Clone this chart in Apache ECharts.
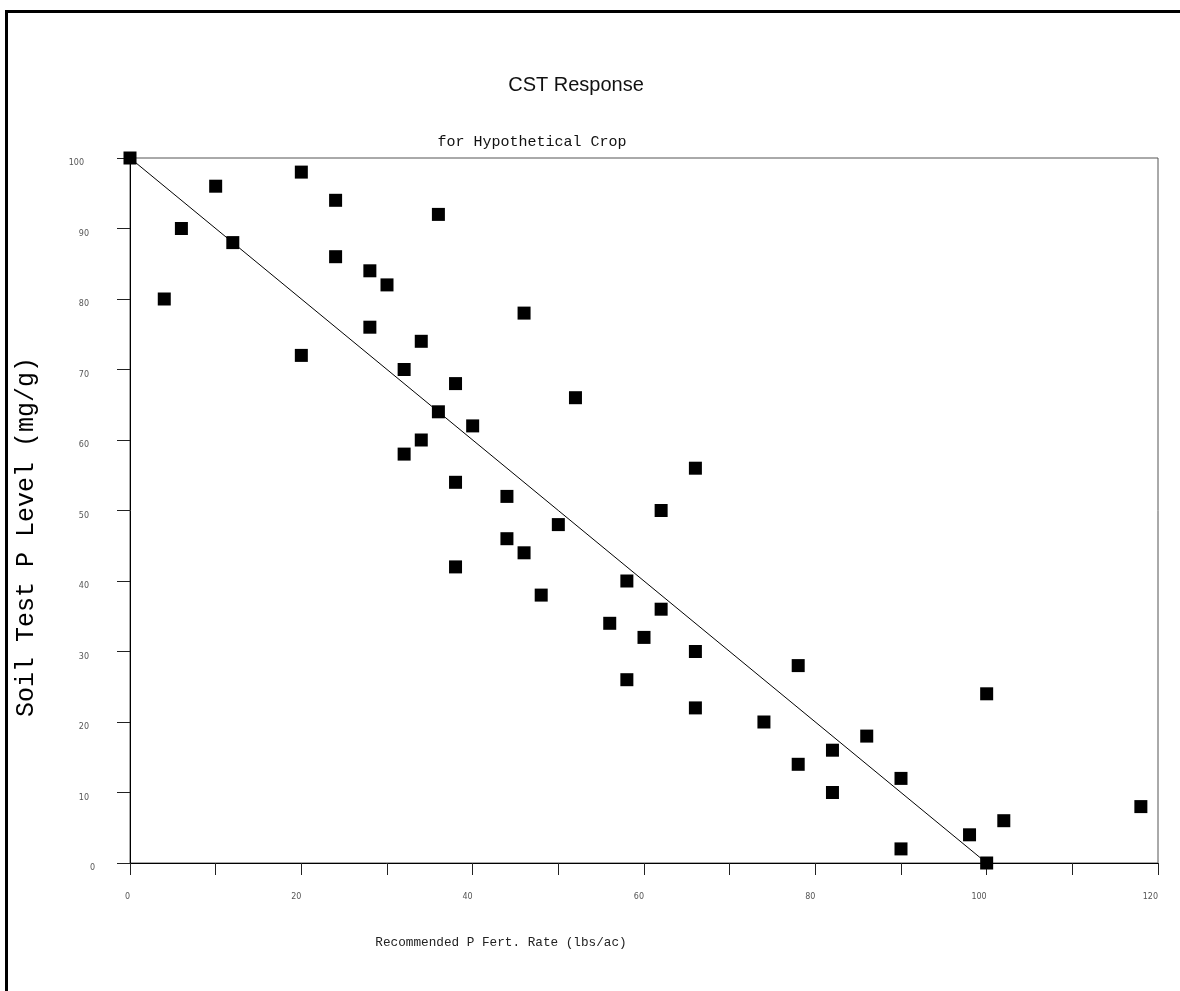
<!DOCTYPE html>
<html>
<head>
<meta charset="utf-8">
<script src="https://cdn.jsdelivr.net/npm/echarts@6/dist/echarts.min.js"></script>
<style>
html,body{margin:0;padding:0;background:#fff;}
#chart{width:1180px;height:991px;}
</style>
</head>
<body>
<div id="chart"></div>
<script>
// Data
const fertRate = [0, 20, 10, 24, 36, 6, 12, 24, 28, 30, 4, 28, 34, 20, 32, 38, 36, 34, 32, 38,
  46, 52, 40, 44, 66,
  62, 50, 44, 46, 38, 58, 48, 62, 56, 60, 66, 78, 58, 66, 74, 78,
  100, 86, 82, 90, 82, 118, 102, 98, 90, 100];
const soilP = [100, 98, 96, 94, 92, 90, 88, 86, 84, 82, 80, 76, 74, 72, 70, 68, 64, 60, 58, 54,
  78, 66, 62, 52, 56,
  50, 48, 46, 44, 42, 40, 38, 36, 34, 32, 30, 28, 26, 22, 20, 14,
  24, 18, 16, 12, 10, 8, 6, 4, 2, 0];
const fitX = [0, 100];
const fitY = [100, 0];
const xTicks = [0, 20, 40, 60, 80, 100, 120];
const yTicks = [0, 10, 20, 30, 40, 50, 60, 70, 80, 90, 100];
const titleText = 'CST Response';
const subtitleText = 'for Hypothetical Crop';
const xTitle = 'Recommended P Fert. Rate (lbs/ac)';
const yTitle = 'Soil Test P Level (mg/g)';

const points = fertRate.map((x, i) => [x, soilP[i]]);
const fitLine = fitX.map((x, i) => [x, fitY[i]]);

const chart = echarts.init(document.getElementById('chart'));
chart.setOption({
  animation: false,
  backgroundColor: '#fff',
  grid: {
    left: 130, right: 22, top: 158, bottom: 128,
    show: true, borderColor: '#555', borderWidth: 1
  },
  xAxis: {
    type: 'value', min: 0, max: 120, interval: 10,
    splitLine: { show: false },
    axisLine: { show: true, onZero: false, lineStyle: { color: '#000', width: 1 } },
    axisTick: { show: true, inside: false, length: 12, lineStyle: { color: '#222', width: 1 } },
    axisLabel: {
      margin: 30, align: 'right', fontSize: 8, color: '#555', fontFamily: 'DejaVu Sans',
      formatter: v => xTicks.indexOf(v) >= 0 ? String(v) : ''
    }
  },
  yAxis: {
    type: 'value', min: 0, max: 100, interval: 10,
    splitLine: { show: false },
    axisLine: { show: true, onZero: false, lineStyle: { color: '#000', width: 1 } },
    axisTick: { show: true, inside: false, length: 13, lineStyle: { color: '#222', width: 1 } },
    axisLabel: {
      margin: 35, fontSize: 8, color: '#555', fontFamily: 'DejaVu Sans',
      formatter: v => {
        if (yTicks.indexOf(v) < 0) return '';
        const s = String(v);
        return '{d' + s.length + '|' + s + '}';
      },
      rich: {
        d1: { fontSize: 8, color: '#555', fontFamily: 'DejaVu Sans', padding: [10, 0, 0, 0] },
        d2: { fontSize: 8, color: '#555', fontFamily: 'DejaVu Sans', padding: [10, 6, 0, 0] },
        d3: { fontSize: 8, color: '#555', fontFamily: 'DejaVu Sans', padding: [10, 11, 0, 0] }
      }
    }
  },
  series: [
    {
      type: 'line', data: fitLine, symbol: 'none', silent: true,
      lineStyle: { color: '#000', width: 1 }, z: 2
    },
    {
      type: 'scatter', data: points, symbol: 'rect', symbolSize: 13,
      itemStyle: { color: '#000', opacity: 1 }, z: 3
    }
  ],
  graphic: [
    {
      type: 'rect', silent: true, z: 100,
      shape: { x: 6.5, y: 11.5, width: 1400, height: 1200 },
      style: { fill: 'none', stroke: '#000', lineWidth: 3 }
    },
    {
      type: 'text', x: 576, y: 85, silent: true,
      style: { text: titleText, font: '20px "Liberation Sans", Arial, sans-serif', fill: '#111', textAlign: 'center', textVerticalAlign: 'middle' }
    },
    {
      type: 'text', x: 532, y: 142, silent: true,
      style: { text: subtitleText, font: '15px "Liberation Mono", "Courier New", monospace', fill: '#111', textAlign: 'center', textVerticalAlign: 'middle' }
    },
    {
      type: 'text', x: 501, y: 943, silent: true,
      style: { text: xTitle, font: '12.7px "Liberation Mono", "Courier New", monospace', fill: '#222', textAlign: 'center', textVerticalAlign: 'middle' }
    },
    {
      type: 'text', x: 26, y: 537, rotation: Math.PI / 2, silent: true,
      style: { text: yTitle, font: '25px "Liberation Mono", "Courier New", monospace', fill: '#000', textAlign: 'center', textVerticalAlign: 'middle' }
    }
  ]
});
</script>
</body>
</html>
